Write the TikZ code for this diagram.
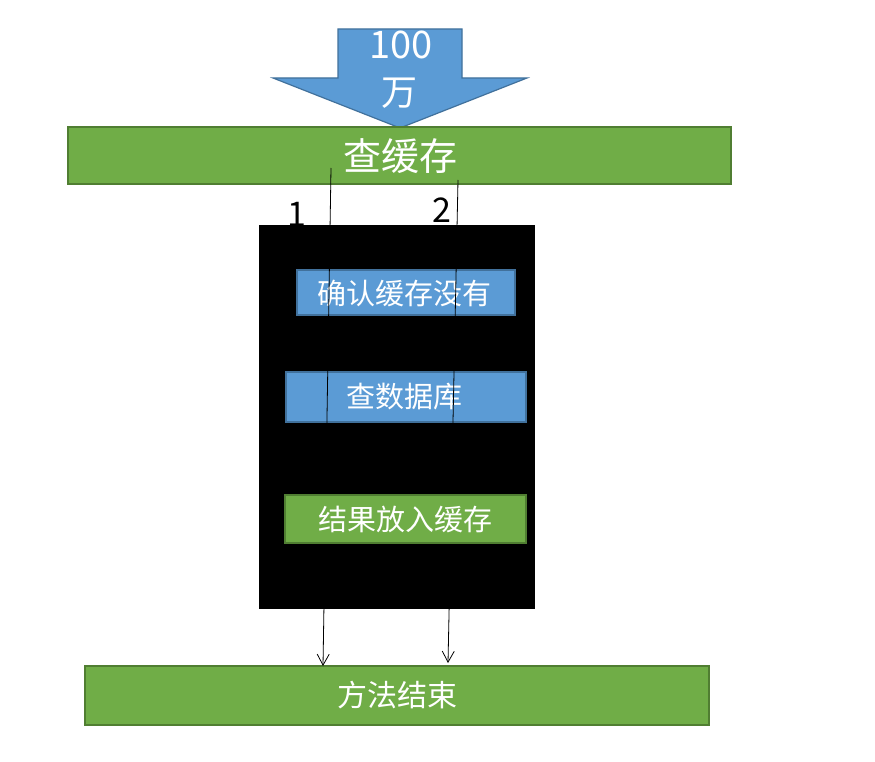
\documentclass[tikz,border=0pt]{standalone}
\usepackage{fontspec}
\setmainfont{Noto Sans CJK SC}
\usetikzlibrary{arrows.meta}
\definecolor{bluefill}{HTML}{5B9BD5}
\definecolor{bluedraw}{HTML}{41719C}
\definecolor{greenfill}{HTML}{70AD47}
\definecolor{greendraw}{HTML}{507E32}
\tikzset{
  gbox/.style={draw=greendraw,fill=greenfill,line width=1.2pt},
  bbox/.style={draw=bluedraw,fill=bluefill,line width=1.2pt},
  wtext/.style={text=white,inner sep=0pt},
  conn/.style={draw=black,line width=0.8pt,-{Straight Barb[length=11pt,width=12pt,line width=0.8pt]}},
}
\begin{document}
\begin{tikzpicture}[x=1pt,y=-1pt]
\useasboundingbox[fill=white] (0,0) rectangle (875,762);
% big arrow
\draw[bbox] (338,29) -- (462,29) -- (462,78) -- (527,78) -- (400,128) -- (273,78) -- (338,78) -- cycle;
\node[wtext,font=\fontsize{38}{42}\selectfont] (n100) at (401,45) {100};
\node[wtext,font=\fontsize{36}{40}\selectfont] (nwan) at (399,93) {万};
% top green bar
\draw[gbox] (68,127) rectangle (731,184);
\node[wtext,font=\fontsize{38}{42}\selectfont] (cha) at (400,156) {查缓存};
% labels
\node[inner sep=0pt,font=\fontsize{34}{38}\selectfont] (l1) at (297,214) {1};
\node[inner sep=0pt,font=\fontsize{34}{38}\selectfont] (l2) at (442,210) {2};
% black block
\fill[black] (259,225) rectangle (535,609);
\draw[bbox] (297,270) rectangle (515,315);
\node[wtext,font=\fontsize{29}{32}\selectfont] (b1) at (404,293) {确认缓存没有};
\draw[bbox] (286,372) rectangle (526,422);
\node[wtext,font=\fontsize{29}{32}\selectfont] (b2) at (404,397) {查数据库};
% bottom green bar
\draw[gbox] (85,666) rectangle (709,725);
\node[wtext,font=\fontsize{30}{34}\selectfont] (end) at (397,695) {方法结束};
% connectors
\coordinate (s1) at (331,168);
\coordinate (e1) at (323,666);
\coordinate (s2) at (458,180);
\coordinate (e2) at (448,663);
\draw[conn] (s1) -- (e1);
\draw[conn] (s2) -- (e2);
% green box drawn over the connectors
\draw[gbox] (285,495) rectangle (526,543);
\node[wtext,font=\fontsize{29}{32}\selectfont] (b3) at (405,519) {结果放入缓存};
\end{tikzpicture}
\end{document}
